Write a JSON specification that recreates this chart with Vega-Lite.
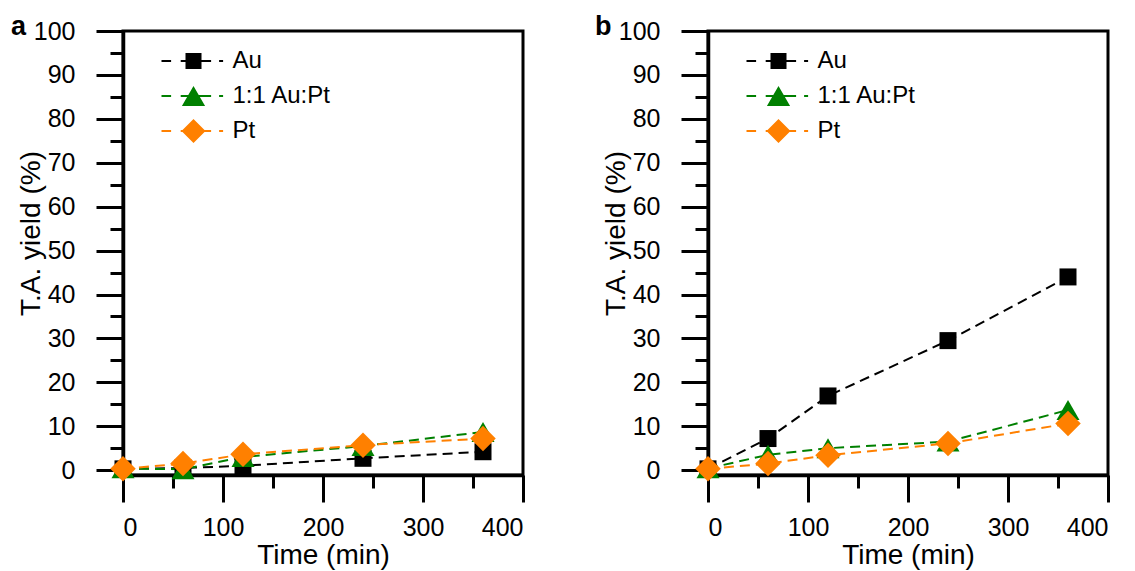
{
  "$schema": "https://vega.github.io/schema/vega-lite/v6.json",
  "padding": {"left": 9, "top": 11, "right": 5, "bottom": 5},
  "background": "white",
  "spacing": 67,
  "config": {
    "font": "Liberation Sans",
    "view": {"stroke": "black", "strokeWidth": 3},
    "axis": {
      "domainColor": "black", "domainWidth": 3.5, "tickColor": "black", "tickWidth": 3,
      "labelFontSize": 25, "labelColor": "black", "titleFontSize": 28, "titleColor": "black",
      "titleFontWeight": "normal", "grid": false, "labelFont": "Liberation Sans", "titleFont": "Liberation Sans"
    },
    "legend": {
      "orient": "none", "legendX": 58.5, "legendY": 18, "padding": 0, "title": null,
      "labelFontSize": 24, "labelColor": "black", "labelFont": "Liberation Sans",
      "labelOffset": 27, "rowPadding": 11, "symbolSize": 256, "symbolStrokeWidth": 0, "symbolOpacity": 1
    },
    "title": {"fontSize": 27, "fontWeight": "bold", "color": "black", "font": "Liberation Sans"}
  },
  "datasets": {
    "d": [
      {"panel": "a", "s": "Au", "t": 0, "v": 0.3},
      {"panel": "a", "s": "Au", "t": 60, "v": 0.5},
      {"panel": "a", "s": "Au", "t": 120, "v": 1.0},
      {"panel": "a", "s": "Au", "t": 240, "v": 2.7},
      {"panel": "a", "s": "Au", "t": 360, "v": 4.2},
      {"panel": "a", "s": "1:1 Au:Pt", "t": 0, "v": 0.4},
      {"panel": "a", "s": "1:1 Au:Pt", "t": 60, "v": 0.2},
      {"panel": "a", "s": "1:1 Au:Pt", "t": 120, "v": 3.0},
      {"panel": "a", "s": "1:1 Au:Pt", "t": 240, "v": 5.5},
      {"panel": "a", "s": "1:1 Au:Pt", "t": 360, "v": 8.7},
      {"panel": "a", "s": "Pt", "t": 0, "v": 0.3},
      {"panel": "a", "s": "Pt", "t": 60, "v": 1.5},
      {"panel": "a", "s": "Pt", "t": 120, "v": 3.6},
      {"panel": "a", "s": "Pt", "t": 240, "v": 5.7},
      {"panel": "a", "s": "Pt", "t": 360, "v": 7.2},
      {"panel": "b", "s": "Au", "t": 0, "v": 0.3},
      {"panel": "b", "s": "Au", "t": 60, "v": 7.2},
      {"panel": "b", "s": "Au", "t": 120, "v": 16.9},
      {"panel": "b", "s": "Au", "t": 240, "v": 29.5},
      {"panel": "b", "s": "Au", "t": 360, "v": 44.0},
      {"panel": "b", "s": "1:1 Au:Pt", "t": 0, "v": 0.4},
      {"panel": "b", "s": "1:1 Au:Pt", "t": 60, "v": 3.5},
      {"panel": "b", "s": "1:1 Au:Pt", "t": 120, "v": 5.0},
      {"panel": "b", "s": "1:1 Au:Pt", "t": 240, "v": 6.5},
      {"panel": "b", "s": "1:1 Au:Pt", "t": 360, "v": 13.7},
      {"panel": "b", "s": "Pt", "t": 0, "v": 0.3},
      {"panel": "b", "s": "Pt", "t": 60, "v": 1.5},
      {"panel": "b", "s": "Pt", "t": 120, "v": 3.4},
      {"panel": "b", "s": "Pt", "t": 240, "v": 6.1},
      {"panel": "b", "s": "Pt", "t": 360, "v": 10.6}
    ]
  },
  "hconcat": [
    {
      "width": 400, "height": 444,
      "title": {"text": "a", "anchor": "start", "frame": "group", "dx": -112, "offset": -43, "baseline": "alphabetic"},
      "data": {"name": "d"},
      "transform": [{"filter": "datum.panel === 'a'"}],
      "encoding": {
        "x": {"field": "t", "type": "quantitative", "scale": {"domain": [0, 400], "nice": false},
          "axis": {"values": [0, 50, 100, 150, 200, 250, 300, 350, 400], "title": "Time (min)",
            "tickSize": {"condition": {"test": "datum.value % 100 === 0", "value": 27}, "value": 13},
            "labelExpr": "datum.value % 100 === 0 ? datum.label : ''", "labelPadding": 13, "titlePadding": 1}},
        "y": {"field": "v", "type": "quantitative", "scale": {"domain": [-1.1, 100], "nice": false, "zero": false},
          "axis": {"values": [0, 5, 10, 15, 20, 25, 30, 35, 40, 45, 50, 55, 60, 65, 70, 75, 80, 85, 90, 95, 100], "title": "T.A. yield (%)",
            "tickSize": {"condition": {"test": "datum.value % 10 === 0", "value": 27}, "value": 13},
            "labelExpr": "datum.value % 10 === 0 ? datum.label : ''", "labelPadding": 21, "titleX": -78, "titleY": 202}},
        "color": {"field": "s", "type": "nominal",
          "scale": {"domain": ["Au", "1:1 Au:Pt", "Pt"], "range": ["#000000", "#008000", "#ff8000"]}}
      },
      "layer": [
        {"mark": {"type": "line", "strokeDash": [10, 6], "strokeWidth": 2}},
        {"transform": [{"filter": "datum.s === 'Au'"}], "mark": {"type": "point", "shape": "square", "size": 289, "filled": true, "opacity": 1}},
        {"transform": [{"filter": "datum.s === '1:1 Au:Pt'"}], "mark": {"type": "point", "shape": "triangle-up", "size": 529, "filled": true, "opacity": 1}},
        {"transform": [{"filter": "datum.s === 'Pt'"}], "mark": {"type": "point", "shape": "diamond", "size": 650, "filled": true, "opacity": 1}},
        {"mark": {"type": "point", "filled": true, "opacity": 0},
          "encoding": {
            "shape": {"field": "s", "type": "nominal", "scale": {"domain": ["Au", "1:1 Au:Pt", "Pt"], "range": [
              "M-4,-0.13H-2.8V0.13H-4ZM-1.6,-0.13H2.2V0.13H-1.6ZM3.2,-0.13H3.7V0.13H3.2ZM-1,-1H1V1H-1Z",
              "M-4,-0.13H-2.8V0.13H-4ZM-1.6,-0.13H2.2V0.13H-1.6ZM3.2,-0.13H3.7V0.13H3.2ZM0,-1.25L1.45,1.25H-1.45Z",
              "M-4,-0.13H-2.8V0.13H-4ZM-1.6,-0.13H2.2V0.13H-1.6ZM3.2,-0.13H3.7V0.13H3.2ZM-1.5,0L0,-1.5L1.5,0L0,1.5Z"]}}
          }}
      ]
    },
    {
      "width": 400, "height": 444,
      "title": {"text": "b", "anchor": "start", "frame": "group", "dx": -113, "offset": -43, "baseline": "alphabetic"},
      "data": {"name": "d"},
      "transform": [{"filter": "datum.panel === 'b'"}],
      "encoding": {
        "x": {"field": "t", "type": "quantitative", "scale": {"domain": [0, 400], "nice": false},
          "axis": {"values": [0, 50, 100, 150, 200, 250, 300, 350, 400], "title": "Time (min)",
            "tickSize": {"condition": {"test": "datum.value % 100 === 0", "value": 27}, "value": 13},
            "labelExpr": "datum.value % 100 === 0 ? datum.label : ''", "labelPadding": 13, "titlePadding": 1}},
        "y": {"field": "v", "type": "quantitative", "scale": {"domain": [-1.1, 100], "nice": false, "zero": false},
          "axis": {"values": [0, 5, 10, 15, 20, 25, 30, 35, 40, 45, 50, 55, 60, 65, 70, 75, 80, 85, 90, 95, 100], "title": "T.A. yield (%)",
            "tickSize": {"condition": {"test": "datum.value % 10 === 0", "value": 27}, "value": 13},
            "labelExpr": "datum.value % 10 === 0 ? datum.label : ''", "labelPadding": 21, "titleX": -78, "titleY": 202}},
        "color": {"field": "s", "type": "nominal",
          "scale": {"domain": ["Au", "1:1 Au:Pt", "Pt"], "range": ["#000000", "#008000", "#ff8000"]}}
      },
      "layer": [
        {"mark": {"type": "line", "strokeDash": [10, 6], "strokeWidth": 2}},
        {"transform": [{"filter": "datum.s === 'Au'"}], "mark": {"type": "point", "shape": "square", "size": 289, "filled": true, "opacity": 1}},
        {"transform": [{"filter": "datum.s === '1:1 Au:Pt'"}], "mark": {"type": "point", "shape": "triangle-up", "size": 529, "filled": true, "opacity": 1}},
        {"transform": [{"filter": "datum.s === 'Pt'"}], "mark": {"type": "point", "shape": "diamond", "size": 650, "filled": true, "opacity": 1}},
        {"mark": {"type": "point", "filled": true, "opacity": 0},
          "encoding": {
            "shape": {"field": "s", "type": "nominal", "scale": {"domain": ["Au", "1:1 Au:Pt", "Pt"], "range": [
              "M-4,-0.13H-2.8V0.13H-4ZM-1.6,-0.13H2.2V0.13H-1.6ZM3.2,-0.13H3.7V0.13H3.2ZM-1,-1H1V1H-1Z",
              "M-4,-0.13H-2.8V0.13H-4ZM-1.6,-0.13H2.2V0.13H-1.6ZM3.2,-0.13H3.7V0.13H3.2ZM0,-1.25L1.45,1.25H-1.45Z",
              "M-4,-0.13H-2.8V0.13H-4ZM-1.6,-0.13H2.2V0.13H-1.6ZM3.2,-0.13H3.7V0.13H3.2ZM-1.5,0L0,-1.5L1.5,0L0,1.5Z"]}}
          }}
      ]
    }
  ],
  "resolve": {"scale": {"color": "independent", "shape": "independent"}, "legend": {"color": "independent", "shape": "independent"}}
}
